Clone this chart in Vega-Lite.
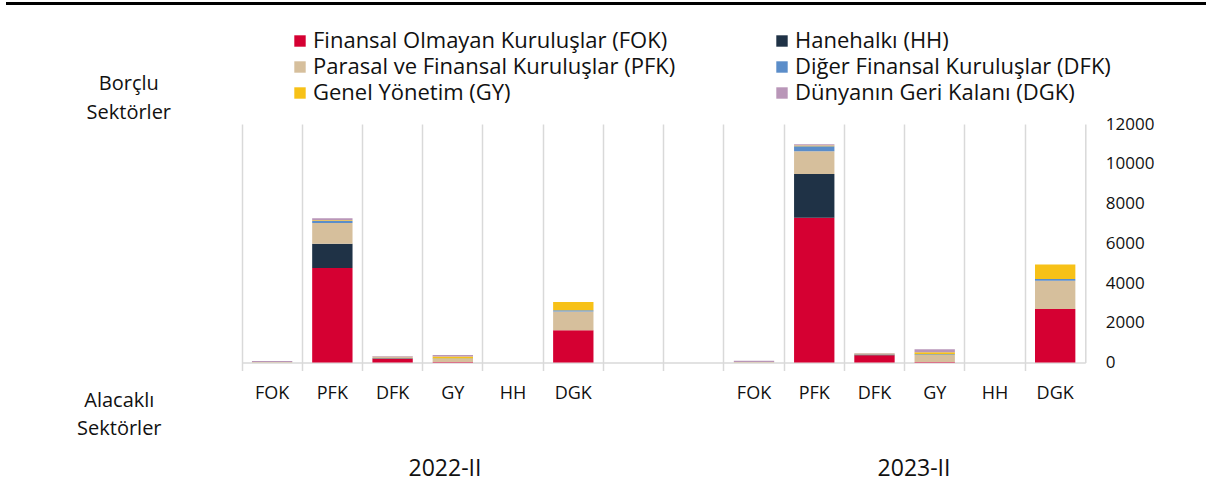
{
  "$schema": "https://vega.github.io/schema/vega-lite/v6.json",
  "padding": {"left": 6, "top": 2, "right": 0, "bottom": 5},
  "bounds": "flush",
  "spacing": 120,
  "config": {
    "font": "Open Sans",
    "view": {"stroke": null},
    "axis": {"labelFont": "Open Sans", "titleFont": "Open Sans", "labelColor": "#111111", "titleColor": "#111111", "labelFontSize": 17, "titleFontSize": 20, "titleFontWeight": "normal"},
    "legend": {"labelFont": "Open Sans", "labelColor": "#111111", "labelFontSize": 22}
  },
  "vconcat": [
    {
      "width": 1198,
      "height": 1,
      "data": {"values": []},
      "mark": {"type": "rule", "opacity": 0},
      "encoding": {},
      "view": {"stroke": "#000000", "strokeWidth": 2}
    },
    {
      "bounds": "flush",
      "spacing": 0,
      "hconcat": [
        {
          "width": 234.7,
          "height": 238.5,
          "data": {"values": []},
          "mark": {"type": "rule", "opacity": 0},
          "encoding": {}
        },
        {
          "width": 843.3,
          "height": 238.5,
          "resolve": {"scale": {"x": "independent"}, "axis": {"x": "independent"}},
          "layer": [
            {
              "data": {"values": [
                {"kategori": "2022-II FOK", "borclu": "Parasal ve Finansal Kuruluşlar (PFK)", "deger": 20},
                {"kategori": "2022-II FOK", "borclu": "Dünyanın Geri Kalanı (DGK)", "deger": 50},
                {"kategori": "2022-II PFK", "borclu": "Finansal Olmayan Kuruluşlar (FOK)", "deger": 4750},
                {"kategori": "2022-II PFK", "borclu": "Hanehalkı (HH)", "deger": 1220},
                {"kategori": "2022-II PFK", "borclu": "Parasal ve Finansal Kuruluşlar (PFK)", "deger": 1055},
                {"kategori": "2022-II PFK", "borclu": "Diğer Finansal Kuruluşlar (DFK)", "deger": 90},
                {"kategori": "2022-II PFK", "borclu": "Genel Yönetim (GY)", "deger": 40},
                {"kategori": "2022-II PFK", "borclu": "Dünyanın Geri Kalanı (DGK)", "deger": 100},
                {"kategori": "2022-II DFK", "borclu": "Finansal Olmayan Kuruluşlar (FOK)", "deger": 190},
                {"kategori": "2022-II DFK", "borclu": "Hanehalkı (HH)", "deger": 30},
                {"kategori": "2022-II DFK", "borclu": "Parasal ve Finansal Kuruluşlar (PFK)", "deger": 80},
                {"kategori": "2022-II DFK", "borclu": "Dünyanın Geri Kalanı (DGK)", "deger": 25},
                {"kategori": "2022-II GY", "borclu": "Finansal Olmayan Kuruluşlar (FOK)", "deger": 20},
                {"kategori": "2022-II GY", "borclu": "Parasal ve Finansal Kuruluşlar (PFK)", "deger": 160},
                {"kategori": "2022-II GY", "borclu": "Diğer Finansal Kuruluşlar (DFK)", "deger": 20},
                {"kategori": "2022-II GY", "borclu": "Genel Yönetim (GY)", "deger": 100},
                {"kategori": "2022-II GY", "borclu": "Dünyanın Geri Kalanı (DGK)", "deger": 75},
                {"kategori": "2022-II DGK", "borclu": "Finansal Olmayan Kuruluşlar (FOK)", "deger": 1620},
                {"kategori": "2022-II DGK", "borclu": "Parasal ve Finansal Kuruluşlar (PFK)", "deger": 950},
                {"kategori": "2022-II DGK", "borclu": "Diğer Finansal Kuruluşlar (DFK)", "deger": 60},
                {"kategori": "2022-II DGK", "borclu": "Genel Yönetim (GY)", "deger": 420},
                {"kategori": "2023-II FOK", "borclu": "Parasal ve Finansal Kuruluşlar (PFK)", "deger": 20},
                {"kategori": "2023-II FOK", "borclu": "Dünyanın Geri Kalanı (DGK)", "deger": 70},
                {"kategori": "2023-II PFK", "borclu": "Finansal Olmayan Kuruluşlar (FOK)", "deger": 7280},
                {"kategori": "2023-II PFK", "borclu": "Hanehalkı (HH)", "deger": 2210},
                {"kategori": "2023-II PFK", "borclu": "Parasal ve Finansal Kuruluşlar (PFK)", "deger": 1140},
                {"kategori": "2023-II PFK", "borclu": "Diğer Finansal Kuruluşlar (DFK)", "deger": 250},
                {"kategori": "2023-II PFK", "borclu": "Genel Yönetim (GY)", "deger": 40},
                {"kategori": "2023-II PFK", "borclu": "Dünyanın Geri Kalanı (DGK)", "deger": 60},
                {"kategori": "2023-II DFK", "borclu": "Finansal Olmayan Kuruluşlar (FOK)", "deger": 360},
                {"kategori": "2023-II DFK", "borclu": "Hanehalkı (HH)", "deger": 40},
                {"kategori": "2023-II DFK", "borclu": "Parasal ve Finansal Kuruluşlar (PFK)", "deger": 60},
                {"kategori": "2023-II DFK", "borclu": "Dünyanın Geri Kalanı (DGK)", "deger": 20},
                {"kategori": "2023-II GY", "borclu": "Finansal Olmayan Kuruluşlar (FOK)", "deger": 20},
                {"kategori": "2023-II GY", "borclu": "Parasal ve Finansal Kuruluşlar (PFK)", "deger": 360},
                {"kategori": "2023-II GY", "borclu": "Diğer Finansal Kuruluşlar (DFK)", "deger": 40},
                {"kategori": "2023-II GY", "borclu": "Genel Yönetim (GY)", "deger": 100},
                {"kategori": "2023-II GY", "borclu": "Dünyanın Geri Kalanı (DGK)", "deger": 150},
                {"kategori": "2023-II DGK", "borclu": "Finansal Olmayan Kuruluşlar (FOK)", "deger": 2690},
                {"kategori": "2023-II DGK", "borclu": "Parasal ve Finansal Kuruluşlar (PFK)", "deger": 1420},
                {"kategori": "2023-II DGK", "borclu": "Diğer Finansal Kuruluşlar (DFK)", "deger": 90},
                {"kategori": "2023-II DGK", "borclu": "Genel Yönetim (GY)", "deger": 730}
              ]},
              "transform": [
                {"calculate": "indexof(['Finansal Olmayan Kuruluşlar (FOK)', 'Hanehalkı (HH)', 'Parasal ve Finansal Kuruluşlar (PFK)', 'Diğer Finansal Kuruluşlar (DFK)', 'Genel Yönetim (GY)', 'Dünyanın Geri Kalanı (DGK)'], datum.borclu)", "as": "sira"}
              ],
              "mark": {"type": "bar", "width": {"band": 0.67}},
              "encoding": {
                "x": {
                  "field": "kategori", "type": "nominal",
                  "scale": {"domain": ["2022-II FOK", "2022-II PFK", "2022-II DFK", "2022-II GY", "2022-II HH", "2022-II DGK", "bos1", "bos2", "2023-II FOK", "2023-II PFK", "2023-II DFK", "2023-II GY", "2023-II HH", "2023-II DGK"], "paddingInner": 0, "paddingOuter": 0},
                  "axis": {
                    "orient": "bottom",
                    "bandPosition": 0,
                    "labelExpr": "indexof(datum.value, 'bos') == 0 ? '' : slice(datum.value, 8)",
                    "labelAngle": 0, "labelOffset": 0, "labelPadding": 14, "labelFontSize": 18,
                    "grid": true, "gridColor": "#d9d9d9", "gridWidth": 1.5,
                    "ticks": true, "tickSize": 8, "tickColor": "#d9d9d9", "tickWidth": 1.5,
                    "domain": true, "domainColor": "#d9d9d9", "domainWidth": 1.5,
                    "title": ["Alacaklı", "Sektörler"],
                    "titleAngle": 0, "titleAlign": "center", "titleBaseline": "alphabetic",
                    "titleX": -123.2, "titleY": 43.5, "titleLineHeight": 28
                  }
                },
                "y": {
                  "field": "deger", "type": "quantitative", "stack": "zero",
                  "scale": {"domain": [0, 12000], "nice": false},
                  "axis": {
                    "orient": "right", "values": [0, 2000, 4000, 6000, 8000, 10000, 12000],
                    "format": "d", "grid": false, "ticks": false, "tickSize": 0,
                    "labelPadding": 20, "labelAlign": "left",
                    "domain": true, "domainColor": "#d9d9d9", "domainWidth": 1.5,
                    "title": ["Borçlu", "Sektörler"],
                    "titleAngle": 0, "titleAlign": "center", "titleBaseline": "alphabetic",
                    "titleX": -957, "titleY": -35, "titleLineHeight": 29
                  }
                },
                "color": {
                  "field": "borclu", "type": "nominal",
                  "scale": {
                    "domain": ["Finansal Olmayan Kuruluşlar (FOK)", "Hanehalkı (HH)", "Parasal ve Finansal Kuruluşlar (PFK)", "Diğer Finansal Kuruluşlar (DFK)", "Genel Yönetim (GY)", "Dünyanın Geri Kalanı (DGK)"],
                    "range": ["#d50032", "#1f3246", "#d6bf9c", "#5b8dc9", "#f7c117", "#b996b8"]
                  },
                  "legend": {
                    "title": null, "orient": "none", "legendX": 282, "legendY": 27,
                    "columns": 2, "direction": "horizontal", "columnPadding": 95, "rowPadding": 4,
                    "padding": 0, "symbolType": "square", "symbolSize": 130, "symbolStrokeWidth": 0,
                    "labelOffset": 2, "labelLimit": 600
                  }
                },
                "order": {"field": "sira", "type": "quantitative", "sort": "ascending"}
              }
            },
            {
              "data": {"values": [{"donem": "2022-II"}, {"donem": "2023-II"}]},
              "mark": {"type": "point", "opacity": 0},
              "encoding": {
                "x": {
                  "field": "donem", "type": "nominal",
                  "scale": {"type": "point", "padding": 0.399, "align": 0.541},
                  "axis": {"orient": "bottom", "title": null, "domain": false, "ticks": false, "tickSize": 0, "grid": false, "labelPadding": 95, "labelAngle": 0, "labelFontSize": 23}
                }
              }
            }
          ]
        }
      ]
    }
  ]
}
